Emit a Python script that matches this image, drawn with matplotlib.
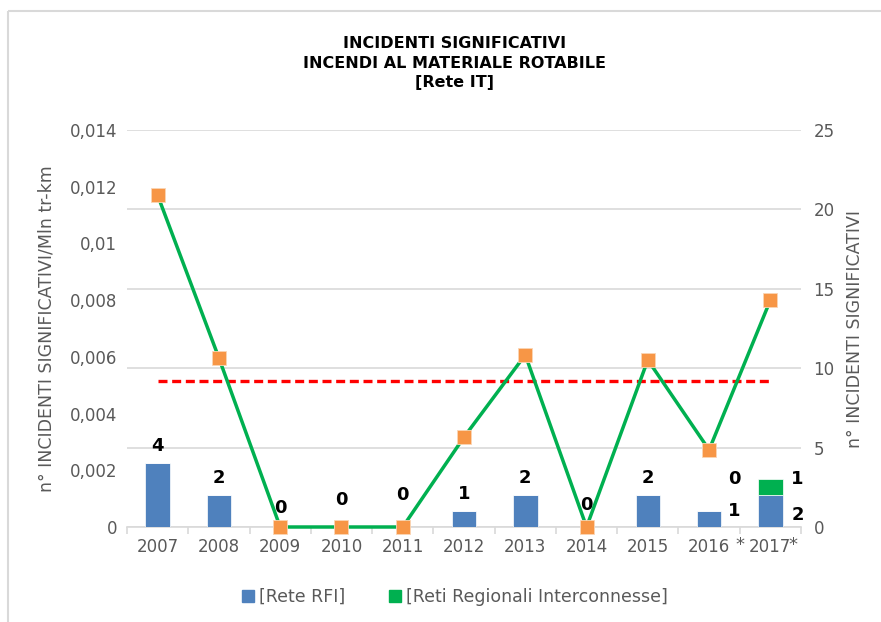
import matplotlib
matplotlib.use("Agg")
import matplotlib.pyplot as plt
from matplotlib.lines import Line2D
from matplotlib.patches import Patch

plt.rcParams['font.family'] = ['DejaVu Sans']

years = ["2007", "2008", "2009", "2010", "2011", "2012", "2013", "2014", "2015", "2016", "2017"]
rete_rfi = [4, 2, 0, 0, 0, 1, 2, 0, 2, 1, 2]
reti_regionali = [0, 0, 0, 0, 0, 0, 0, 0, 0, 0, 1]
tasso = [0.0117, 0.00596, 0.0, 0.0, 0.0, 0.00317, 0.00607, 0.0, 0.00589, 0.00272, 0.0080]
media = 0.00515
left_ticks = [0, 0.002, 0.004, 0.006, 0.008, 0.010, 0.012, 0.014]
left_ticklabels = ["0", "0,002", "0,004", "0,006", "0,008", "0,01", "0,012", "0,014"]
right_ticks = [0, 5, 10, 15, 20, 25]

title = "INCIDENTI SIGNIFICATIVI\nINCENDI AL MATERIALE ROTABILE\n[Rete IT]"
ylabel_left = "n° INCIDENTI SIGNIFICATIVI/Mln tr-km"
ylabel_right = "n° INCIDENTI SIGNIFICATIVI"

blue = "#4F81BD"
green = "#00B050"
orange = "#F79646"
grid = "#D9D9D9"
txt = "#595959"

W, H = 881, 622
fig = plt.figure(figsize=(W / 100, H / 100), dpi=100)

# border
fig.add_artist(Line2D([8 / W, 8 / W], [0, 1 - 11 / H], color=grid, lw=1.5, solid_capstyle="butt",
                      transform=fig.transFigure))
fig.add_artist(Line2D([8 / W, 1.01], [1 - 11 / H, 1 - 11 / H], color=grid, lw=1.5, solid_capstyle="butt",
                      transform=fig.transFigure))

l, r, t, b = 127, 801, 130, 527
ax = fig.add_axes([l / W, 1 - b / H, (r - l) / W, (b - t) / H])
ax2 = ax.twinx()
x = list(range(len(years)))

# bars (right scale)
ax.bar(x, rete_rfi, width=0.4, color=blue, edgecolor="white", linewidth=0.5, zorder=3)
ax.bar(x, reti_regionali, width=0.4, bottom=rete_rfi, color=green, edgecolor="white", linewidth=0.5, zorder=3)
ax.set_ylim(0, 25)
ax.set_yticks(right_ticks)
ax.set_xlim(-0.5, len(years) - 0.5)
ax.grid(axis="y", color=grid, lw=1.2, zorder=0)
ax.set_axisbelow(True)
for s in ["top", "left", "right"]:
    ax.spines[s].set_visible(False)
ax.spines["bottom"].set_color(grid)
ax.spines["bottom"].set_linewidth(1.2)
ax.set_xticks(x)
ax.set_xticklabels(years, fontsize=12, color=txt)
ax.set_xticks([i - 0.5 for i in range(len(years) + 1)], minor=True)
ax.tick_params(axis="x", which="major", length=0, pad=8)
ax.tick_params(axis="x", which="minor", length=5, color=grid, width=1.2)

# data labels
offsets = [17, 17, 19, 27, 32, 17, 17, 22, 17]
for i in range(9):
    tot = rete_rfi[i] + reti_regionali[i]
    ax.annotate(str(tot), (i, tot), xytext=(0, offsets[i] * 0.72), textcoords="offset points",
                ha="center", va="center", fontsize=13, fontweight="bold", color="black")
ax.annotate(str(rete_rfi[9]), (9, rete_rfi[9]), xytext=(18, 0), textcoords="offset points",
            ha="center", va="center", fontsize=13, fontweight="bold")
ax.annotate(str(reti_regionali[9]), (9, rete_rfi[9]), xytext=(18, 23), textcoords="offset points",
            ha="center", va="center", fontsize=13, fontweight="bold")
ax.annotate(str(rete_rfi[10]), (10, rete_rfi[10]), xytext=(20, -14), textcoords="offset points",
            ha="center", va="center", fontsize=13, fontweight="bold")
ax.annotate(str(reti_regionali[10]), (10, rete_rfi[10] + reti_regionali[10]), xytext=(19, 0),
            textcoords="offset points", ha="center", va="center", fontsize=13, fontweight="bold")
for i in (9, 10):
    ax.annotate("*", (i, 0), xytext=(22 if i == 9 else 16, -13), textcoords="offset points",
                ha="center", va="center", fontsize=13, color=txt)

# line (left scale)
ax2.set_ylim(0, 0.014)
ax2.set_yticks(left_ticks)
ax2.set_yticklabels(left_ticklabels)
for s in ax2.spines.values():
    s.set_visible(False)
ax2.plot(x, [media] * len(x), color="#FF0000", lw=2.4, dashes=(2.7, 1.4), zorder=3)
ax2.plot(x, tasso, color=green, lw=2.5, marker="s", markersize=10, markerfacecolor=orange,
         markeredgecolor="#FBD5B5", markeredgewidth=0.6, zorder=4, clip_on=False)

# axis sides: bars scale on right, line scale on left
ax.yaxis.tick_right()
ax.yaxis.set_label_position("right")
ax.tick_params(axis="y", length=0, labelsize=12, labelcolor=txt, pad=9)
ax.set_ylabel(ylabel_right, fontsize=12.5, color=txt, rotation=90, labelpad=8)
ax2.yaxis.tick_left()
ax2.yaxis.set_label_position("left")
ax2.tick_params(axis="y", length=0, labelsize=12, labelcolor=txt, pad=7)
ax2.set_ylabel(ylabel_left, fontsize=12.5, color=txt, labelpad=10)

fig.text(455 / W, 1 - 63 / H, title, ha="center", va="center", fontsize=11.5,
         fontweight="bold", linespacing=1.4)

handles = [Patch(color=blue, label="[Rete RFI]"), Patch(color=green, label="[Reti Regionali Interconnesse]")]
leg = fig.legend(handles=handles, loc="center", bbox_to_anchor=(455 / W, 1 - 597 / H), ncol=2,
                 frameon=False, fontsize=12.5, handlelength=0.7, handleheight=0.7, handletextpad=0.3,
                 columnspacing=2.5)
for tx in leg.get_texts():
    tx.set_color(txt)

fig.savefig("out.png", dpi=100)
